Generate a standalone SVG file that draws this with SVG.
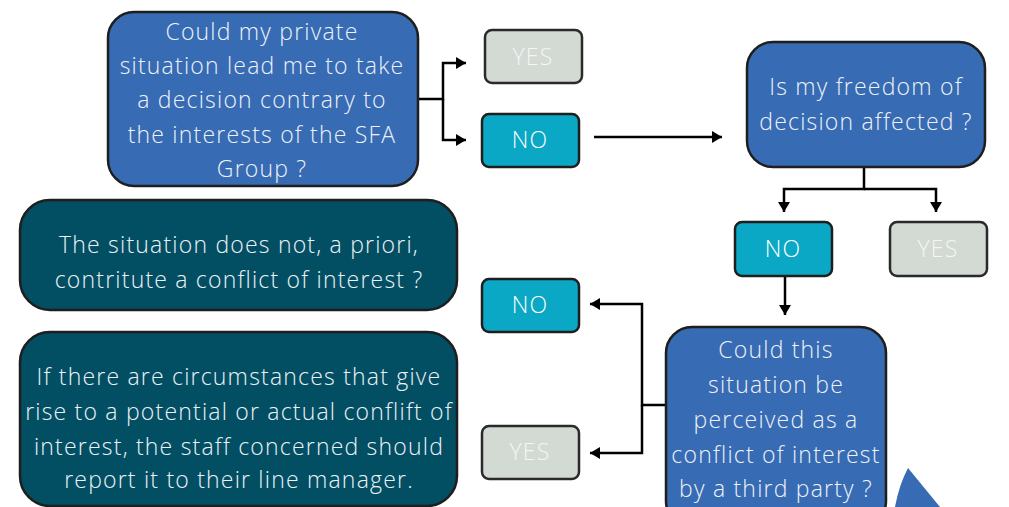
<svg xmlns="http://www.w3.org/2000/svg" width="1009" height="507" viewBox="0 0 1009 507">
<style>
text{font-family:"Open Sans","Liberation Sans",sans-serif;font-weight:300;text-anchor:middle;letter-spacing:1.2px;}
.q{fill:#376BB3;stroke:#1e1e1e;stroke-width:2.5;}
.d{fill:#024F63;stroke:#1e1e1e;stroke-width:2.5;}
.no{fill:#0AA8C4;stroke:#1e1e1e;stroke-width:2.5;}
.yes{fill:#D3D9D3;stroke:#2a2a2a;stroke-width:2.5;}
.t{fill:#EEF2F8;font-size:23px;}
.tn{fill:#FFFFFF;font-size:23px;}
.ty{fill:#F4F6F4;font-size:23px;}
.c{fill:none;stroke:#000;stroke-width:2.5;}
</style>
<defs>
<marker id="ah" viewBox="0 0 10 12" refX="10" refY="6" markerWidth="10" markerHeight="12" markerUnits="userSpaceOnUse" orient="auto">
<path d="M0,0 L10,6 L0,12 Z" fill="#000"/>
</marker>
</defs>
<g id="connectors">
<path class="c" d="M418,99 H443 V63 H466" marker-end="url(#ah)"/>
<path class="c" d="M443,99 V140 H466" marker-end="url(#ah)"/>
<path class="c" d="M594,137 H722" marker-end="url(#ah)"/>
<path class="c" d="M864,167 V189 H784 V212" marker-end="url(#ah)"/>
<path class="c" d="M864,189 H936 V212" marker-end="url(#ah)"/>
<path class="c" d="M785,276 V315" marker-end="url(#ah)"/>
<path class="c" d="M666,405 H642 V304 H590" marker-end="url(#ah)"/>
<path class="c" d="M642,405 V453 H590" marker-end="url(#ah)"/>
</g>
<g id="q1">
<rect class="q" x="108" y="12" width="310" height="174" rx="26"/>
<text class="t" x="262" y="40">Could my private</text>
<text class="t" x="262" y="74">situation lead me to take</text>
<text class="t" x="262" y="108">a decision contrary to</text>
<text class="t" x="262" y="143">the interests of the SFA</text>
<text class="t" x="262" y="177">Group ?</text>
</g>
<g id="yes1">
<rect class="yes" x="485" y="30" width="97" height="53" rx="7"/>
<text class="ty" x="533" y="65">YES</text>
</g>
<g id="no1">
<rect class="no" x="482" y="114" width="97" height="53" rx="7"/>
<text class="tn" x="530" y="148">NO</text>
</g>
<g id="q2">
<rect class="q" x="747" y="42" width="238" height="125" rx="26"/>
<text class="t" x="866" y="95">Is my freedom of</text>
<text class="t" x="866" y="130">decision affected ?</text>
</g>
<g id="no2">
<rect class="no" x="735" y="222" width="97" height="54" rx="7"/>
<text class="tn" x="783" y="257">NO</text>
</g>
<g id="yes2">
<rect class="yes" x="890" y="222" width="97" height="54" rx="7"/>
<text class="ty" x="938" y="257">YES</text>
</g>
<g id="q3">
<rect class="q" x="666" y="327" width="220" height="200" rx="26"/>
<text class="t" x="776" y="358">Could this</text>
<text class="t" x="776" y="393">situation be</text>
<text class="t" x="776" y="428">perceived as a</text>
<text class="t" x="776" y="463">conflict of interest</text>
<text class="t" x="776" y="497">by a third party ?</text>
</g>
<g id="no3">
<rect class="no" x="482" y="279" width="97" height="53" rx="7"/>
<text class="tn" x="530" y="313">NO</text>
</g>
<g id="yes3">
<rect class="yes" x="482" y="426" width="97" height="53" rx="7"/>
<text class="ty" x="530" y="460">YES</text>
</g>
<g id="r1">
<rect class="d" x="20" y="200" width="437" height="110" rx="30"/>
<text class="t" x="239" y="253">The situation does not, a priori,</text>
<text class="t" x="239" y="288">contritute a conflict of interest ?</text>
</g>
<g id="r2">
<rect class="d" x="20" y="332" width="437" height="174" rx="30"/>
<text class="t" x="239" y="385">If there are circumstances that give</text>
<text class="t" x="239" y="420">rise to a potential or actual conflift of</text>
<text class="t" x="239" y="455">interest, the staff concerned should</text>
<text class="t" x="239" y="488">report it to their line manager.</text>
</g>
<path d="M908,468 L940,507 L895,507 Q899,485 908,468 Z" fill="#376BB3"/>
</svg>
